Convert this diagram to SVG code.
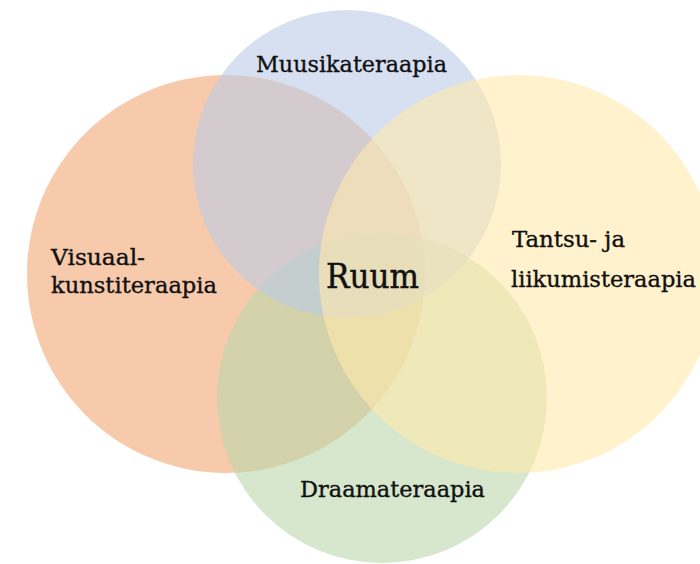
<svg xmlns="http://www.w3.org/2000/svg" width="700" height="564" viewBox="0 0 700 564">
<style>
.c{opacity:0.6}
.t{font-family:"DejaVu Serif","Liberation Serif",serif;font-size:22px;fill:#111;stroke:#111;stroke-width:0.35}
</style>
<rect width="700" height="564" fill="#fff"/>
<g id="visuaal"><circle class="c" cx="226" cy="274" r="199" fill="#F2A773"/></g>
<g id="draama"><circle class="c" cx="382" cy="398" r="165" fill="#BBD7AC"/></g>
<g id="muusika"><circle class="c" cx="347" cy="164" r="154" fill="#BCCBE8"/></g>
<g id="tantsu"><circle class="c" cx="518" cy="274" r="199" fill="#FFE9AC"/></g>
<g id="labels">
<text class="t" x="256" y="72" textLength="191" lengthAdjust="spacingAndGlyphs">Muusikateraapia</text>
<text class="t" x="51" y="265" textLength="94" lengthAdjust="spacingAndGlyphs">Visuaal-</text>
<text class="t" x="51" y="293" textLength="166" lengthAdjust="spacingAndGlyphs">kunstiteraapia</text>
<text class="t" x="512" y="247" textLength="113" lengthAdjust="spacingAndGlyphs">Tantsu- ja</text>
<text class="t" x="511" y="287" textLength="185" lengthAdjust="spacingAndGlyphs">liikumisteraapia</text>
<text class="t" x="300" y="497" textLength="185" lengthAdjust="spacingAndGlyphs">Draamateraapia</text>
<text class="t" x="326" y="288" style="font-size:34px;stroke-width:0.5" textLength="93" lengthAdjust="spacingAndGlyphs">Ruum</text>
</g>
<g id="connectors"/>
</svg>
